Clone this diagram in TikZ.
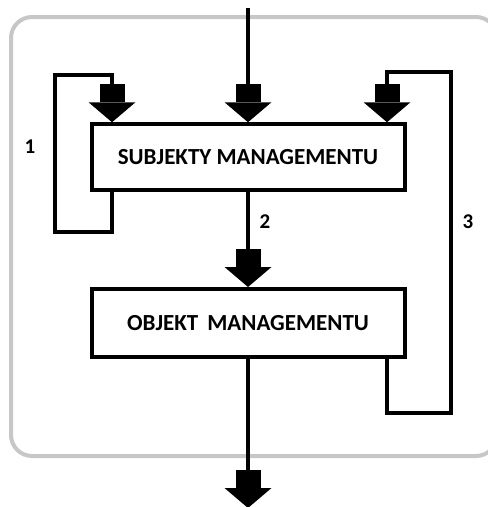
\documentclass[tikz,border=0pt]{standalone}
\usepackage{fontspec}
\setmainfont{Carlito}
\usetikzlibrary{arrows.meta}
\begin{document}
\begin{tikzpicture}[x=1pt,y=-1pt,
  blk/.style={line width=4pt,
    -{Rectangle[width=25pt,length=18pt,line width=0pt,sep=0pt]Triangle[width=47pt,length=20pt,line width=0pt,sep=0pt]}},
  box/.style={draw,line width=4pt,minimum width=313pt,inner sep=0pt,
    font=\fontsize{23}{27}\selectfont\bfseries},
  lbl/.style={font=\fontsize{21}{24}\selectfont\bfseries},
  frame/.style={draw=black!22,line width=4pt,rounded corners=21pt}]
\useasboundingbox (0,0) rectangle (488,507);
\draw[frame] (11,17) rectangle (497,456);
\node[box,minimum height=65.5pt] (s) at (248,157) {SUBJEKTY MANAGEMENTU};
\node[box,minimum height=67.5pt] (o) at (248,322.75) {OBJEKT\, MANAGEMENTU};
\coordinate (in) at (248,8);
\coordinate (out) at (248,508);
\coordinate (l1) at (112,232);
\coordinate (l1b) at (55,75);
\coordinate (r3) at (387,413);
\coordinate (r3b) at (450.5,71.5);
\draw[blk] (in) -- (s.north);
\draw[blk] (s.south) -- (o.north);
\draw[blk] (o.south) -- (out);
\draw[blk] (s.south -| l1) -- (l1) -- (l1 -| l1b) -- (l1b) -- (l1b -| l1) -- (s.north -| l1);
\draw[blk] (o.south -| r3) -- (r3) -- (r3 -| r3b) -- (r3b) -- (r3b -| r3) -- (s.north -| r3);
\node[lbl] (n1) at (30,147) {1};
\node[lbl] (n2) at (265,222) {2};
\node[lbl] (n3) at (468,222) {3};
\end{tikzpicture}
\end{document}
